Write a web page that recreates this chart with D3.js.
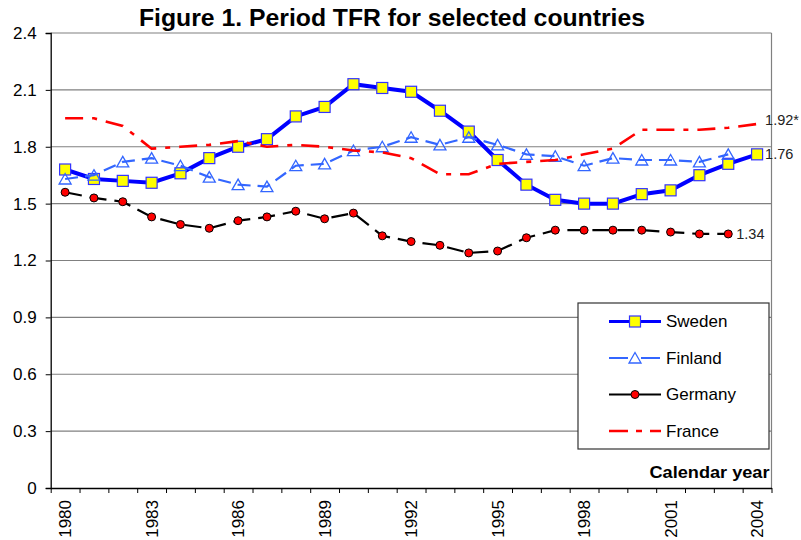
<!DOCTYPE html>
<html>
<head>
<meta charset="utf-8">
<script src="https://cdn.jsdelivr.net/npm/d3@7"></script>
<style>
  body { margin: 0; background: #fff; }
  svg { display: block; font-family: Arial, "Liberation Sans", sans-serif; }
</style>
</head>
<body>
<div id="chart"></div>
<script>
const years = [1980, 1981, 1982, 1983, 1984, 1985, 1986, 1987, 1988, 1989, 1990, 1991, 1992,
               1993, 1994, 1995, 1996, 1997, 1998, 1999, 2000, 2001, 2002, 2003, 2004]
const yearLabels = [1980, 1983, 1986, 1989, 1992, 1995, 1998, 2001, 2004]
const yTicks = [0, 0.3, 0.6, 0.9, 1.2, 1.5, 1.8, 2.1, 2.4]

const sweden = [1.68, 1.63, 1.62, 1.61, 1.66, 1.74, 1.80, 1.84, 1.96, 2.01, 2.13, 2.11, 2.09,
                1.99, 1.88, 1.73, 1.60, 1.52, 1.50, 1.50, 1.55, 1.57, 1.65, 1.71, 1.76]
const finland = [1.63, 1.65, 1.72, 1.74, 1.70, 1.64, 1.60, 1.59, 1.70, 1.71, 1.78, 1.80, 1.85,
                 1.81, 1.85, 1.81, 1.76, 1.75, 1.70, 1.74, 1.73, 1.73, 1.72, 1.76, null]
const germany = [1.56, 1.53, 1.51, 1.43, 1.39, 1.37, 1.41, 1.43, 1.46, 1.42, 1.45, 1.33, 1.30,
                 1.28, 1.24, 1.25, 1.32, 1.36, 1.36, 1.36, 1.36, 1.35, 1.34, 1.34, null]
const france = [1.95, 1.95, 1.91, 1.79, 1.80, 1.81, 1.83, 1.80, 1.81, 1.80, 1.78, 1.77, 1.74,
                1.655, 1.655, 1.71, 1.72, 1.73, 1.76, 1.79, 1.89, 1.89, 1.89, 1.90, 1.92]
const endLabels = { Sweden: '1.76', Germany: '1.34', France: '1.92*' }

const W = 801, H = 540
const plotLeft = 50.7, plotRight = 771.5, plotTop = 33, plotBottom = 488

const svg = d3.select('#chart').append('svg').attr('width', W).attr('height', H)

const xEdge = d3.scaleLinear().domain([1979.5, 2004.5]).range([plotLeft, plotRight])
const x = yr => xEdge(yr)
const y = d3.scaleLinear().domain([0, 2.4]).range([plotBottom, plotTop])

// title
svg.append('text')
    .attr('x', 392).attr('y', 26)
    .attr('text-anchor', 'middle')
    .style('font-size', '23px').style('font-weight', 'bold')
    .attr('textLength', 506).attr('lengthAdjust', 'spacingAndGlyphs')
    .text('Figure 1. Period TFR for selected countries')

// grid lines + frame
svg.append('g').selectAll('line')
    .data(yTicks.filter(d => d > 0))
    .enter().append('line')
    .attr('x1', plotLeft).attr('x2', plotRight)
    .attr('y1', d => y(d)).attr('y2', d => y(d))
    .style('stroke', '#808080').style('stroke-width', 1.2)
svg.append('line')
    .attr('x1', plotRight).attr('x2', plotRight).attr('y1', y(2.4)).attr('y2', y(0))
    .style('stroke', '#808080').style('stroke-width', 1.2)

// y axis
const yAxis = svg.append('g')
    .attr('transform', `translate(${plotLeft},0)`)
    .call(d3.axisLeft(y).tickValues(yTicks).tickSize(5).tickPadding(9)
        .tickFormat(d => d === 0 ? '0' : d3.format('.1f')(d)))
yAxis.select('.domain').style('stroke', '#000').style('stroke-width', 1.3)
yAxis.selectAll('text').style('font-size', '17px').style('fill', '#000')

// x axis, ticks between categories
const edges = years.map(d => d - 0.5).concat([2004.5])
const xAxis = svg.append('g')
    .attr('transform', `translate(0,${plotBottom})`)
    .call(d3.axisBottom(xEdge).tickValues(edges).tickSize(5).tickSizeOuter(0).tickFormat(''))
xAxis.select('.domain').style('stroke', '#000').style('stroke-width', 1.3)
xAxis.selectAll('.tick line').style('stroke', '#000')

svg.append('g').selectAll('text')
    .data(yearLabels)
    .enter().append('text')
    .attr('transform', d => `translate(${x(d)},${plotBottom + 12}) rotate(-90)`)
    .attr('text-anchor', 'end')
    .attr('dy', '0.36em')
    .style('font-size', '17px')
    .text(d => d)

svg.append('text')
    .attr('x', plotRight - 2).attr('y', plotBottom - 10)
    .attr('text-anchor', 'end')
    .style('font-size', '16px').style('font-weight', 'bold')
    .attr('textLength', 120).attr('lengthAdjust', 'spacingAndGlyphs')
    .text('Calendar year')

// series
const series = [
    { name: 'Sweden', values: sweden, color: '#0000ff', width: 4, dash: null, marker: 'square' },
    { name: 'Finland', values: finland, color: '#3366ff', width: 2.2, dash: '13,7', marker: 'triangle' },
    { name: 'Germany', values: germany, color: '#000000', width: 2.2, dash: '17,8', marker: 'circle' },
    { name: 'France', values: france, color: '#ff0000', width: 2.6, dash: '18,9,5,9', marker: null }
]

const line = d3.line()
    .defined(d => d.v != null)
    .x(d => x(d.yr))
    .y(d => y(d.v))

function drawMarker(g, type, color) {
    if (type === 'square') {
        g.append('rect').attr('x', -5.5).attr('y', -5.5).attr('width', 11).attr('height', 11)
            .style('fill', '#ffff00').style('stroke', '#3333ff').style('stroke-width', 1.2)
    } else if (type === 'triangle') {
        g.append('path').attr('d', 'M0,-5.5L6,5L-6,5Z')
            .style('fill', 'none').style('stroke', color).style('stroke-width', 1.3)
    } else if (type === 'circle') {
        g.append('circle').attr('r', 4)
            .style('fill', '#ff0000').style('stroke', '#000').style('stroke-width', 1)
    }
}

series.forEach(s => {
    const pts = years.map((yr, i) => ({ yr, v: s.values[i] }))
    svg.append('path')
        .datum(pts)
        .attr('d', line)
        .style('fill', 'none')
        .style('stroke', s.color)
        .style('stroke-width', s.width)
        .style('stroke-dasharray', s.dash)
    if (s.marker) {
        pts.filter(p => p.v != null).forEach(p => {
            const g = svg.append('g').attr('transform', `translate(${x(p.yr)},${y(p.v)})`)
            drawMarker(g, s.marker, s.color)
        })
    }
    if (endLabels[s.name]) {
        const last = pts.filter(p => p.v != null).pop()
        svg.append('text')
            .attr('x', x(last.yr) + 8)
            .attr('y', y(last.v) - (s.name === 'France' ? 4 : 0))
            .attr('dy', '0.35em')
            .style('font-size', '14.5px')
            .style('fill', '#222')
            .text(endLabels[s.name])
    }
})

// legend
const lg = svg.append('g').attr('transform', 'translate(578,303)')
lg.append('rect').attr('width', 191).attr('height', 146)
    .style('fill', '#fff').style('stroke', '#333').style('stroke-width', 1.2)
series.forEach((s, i) => {
    const ry = 18.5 + i * 36.5
    lg.append('line').attr('x1', 31).attr('x2', 83).attr('y1', ry).attr('y2', ry)
        .style('stroke', s.color)
        .style('stroke-width', s.width === 4 ? 3 : s.width)
        .style('stroke-dasharray', s.name === 'France' ? '19,8,6,8' : (s.name === 'Finland' ? '19,13' : null))
    if (s.marker) drawMarker(lg.append('g').attr('transform', `translate(57,${ry})`), s.marker, s.color)
    lg.append('text').attr('x', 88).attr('y', ry).attr('dy', '0.35em')
        .style('font-size', '17px')
        .text(s.name)
})
</script>
</body>
</html>
